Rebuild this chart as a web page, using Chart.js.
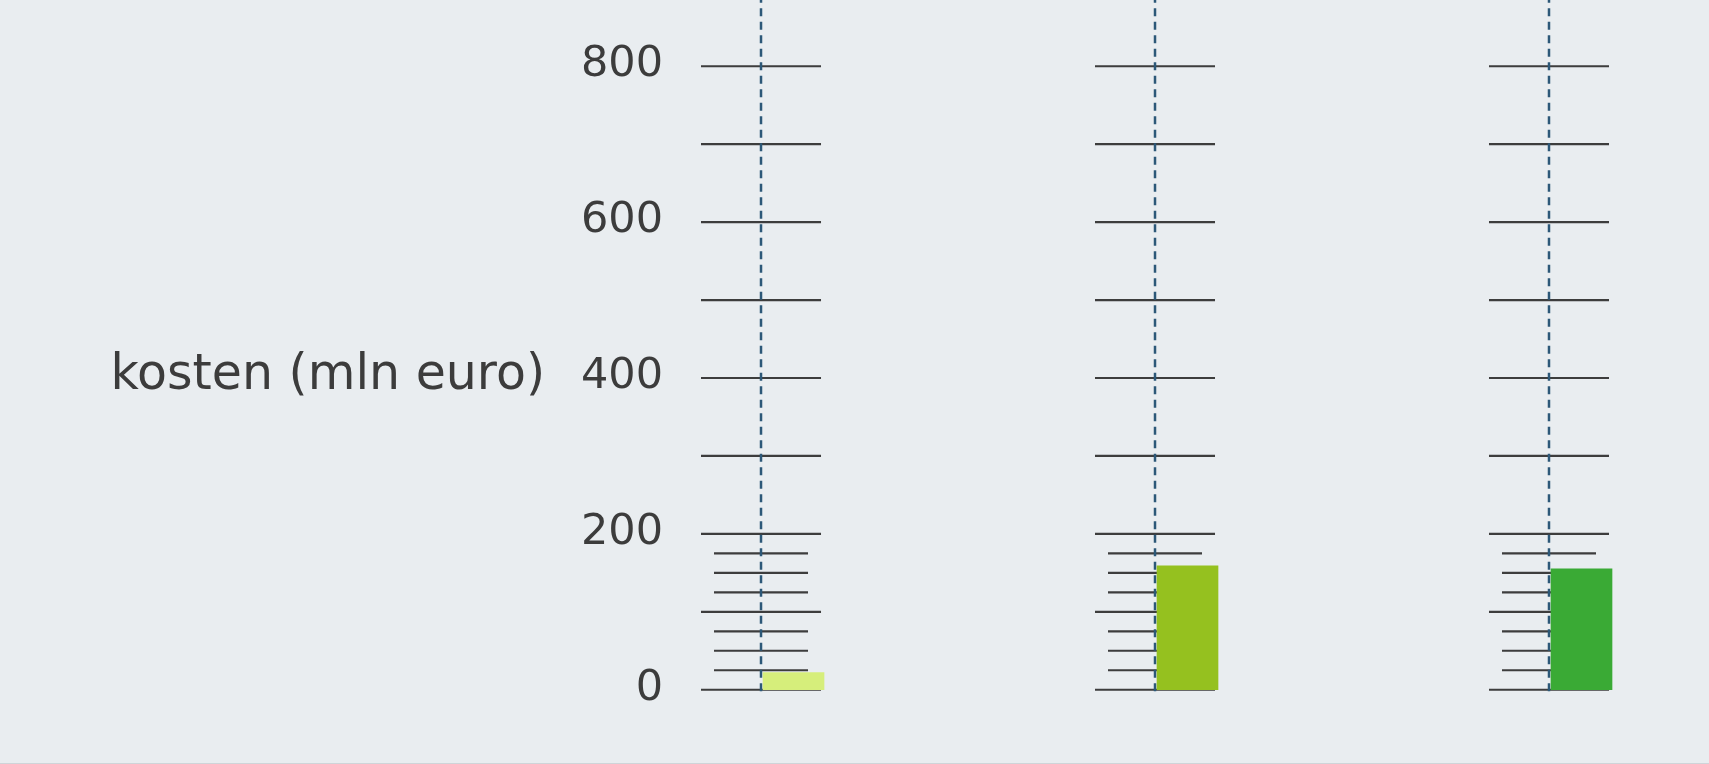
<!DOCTYPE html>
<html>
<head>
<meta charset="utf-8">
<script src="https://cdn.jsdelivr.net/npm/chart.js@4"></script>
<style>
  html, body { margin: 0; padding: 0; background: #e9edf0; }
  #wrap { width: 1709px; height: 763px; border-bottom: 1px solid #cfd4d8; }
  canvas { display: block; }
</style>
</head>
<body>
<div id="wrap"><canvas id="c" width="1709" height="763"></canvas></div>
<script>
// ---- data ----
const categories = ['1', '2', '3'];
const costs = [22, 159, 155];              // kosten (mln euro)
const barColors = ['#d6ee7b', '#95c11f', '#3aaa35'];
const majorTicks = [0, 100, 200, 300, 400, 500, 600, 700, 800];
const minorTicks = [25, 50, 75, 125, 150, 175];
const labelTicks = [0, 200, 400, 600, 800];
const axisTitle = 'kosten (mln euro)';

// ---- build datasets from the data ----
const MAJOR_HALF = 0.1523, MINOR_HALF = 0.1193, BAR_SHIFT = 0.0825, Y_TOP = 885;
const tickLines = [];
categories.forEach((c, i) => {
  majorTicks.forEach(v => {
    tickLines.push({x: i - MAJOR_HALF, y: v}, {x: i + MAJOR_HALF, y: v}, {x: i, y: null});
  });
  minorTicks.forEach(v => {
    tickLines.push({x: i - MINOR_HALF, y: v}, {x: i + MINOR_HALF, y: v}, {x: i, y: null});
  });
});
const stems = [];
categories.forEach((c, i) => {
  stems.push({x: i, y: -2}, {x: i, y: Y_TOP}, {x: i, y: null});
});
const bars = costs.map((v, i) => ({x: i + BAR_SHIFT, y: v}));

const titlePlugin = {
  id: 'sideTitle',
  afterDraw(chart) {
    const ctx = chart.ctx;
    ctx.save();
    ctx.font = '49px "DejaVu Sans"';
    ctx.fillStyle = '#3c3c3c';
    ctx.textAlign = 'right';
    ctx.textBaseline = 'alphabetic';
    ctx.fillText(axisTitle, chart.chartArea.left - 130, chart.scales.y.getPixelForValue(400) + 10.6);
    ctx.restore();
  }
};

new Chart(document.getElementById('c'), {
  type: 'bar',
  data: {
    datasets: [
      {
        type: 'bar',
        data: bars,
        backgroundColor: barColors,
        borderWidth: 0,
        barThickness: 61,
        order: 0
      },
      {
        type: 'line',
        data: stems,
        borderColor: '#2c5878',
        borderWidth: 2.5,
        borderDash: [8, 5.5],
        borderCapStyle: 'butt',
        pointRadius: 0,
        spanGaps: false,
        fill: false,
        clip: false,
        order: 1
      },
      {
        type: 'line',
        data: tickLines,
        borderColor: '#3d3d3d',
        borderWidth: 2.2,
        borderCapStyle: 'butt',
        pointRadius: 0,
        spanGaps: false,
        fill: false,
        clip: false,
        order: 2
      }
    ]
  },
  options: {
    responsive: false,
    devicePixelRatio: 1,
    animation: false,
    layout: { padding: 0 },
    plugins: { legend: { display: false }, tooltip: { enabled: false } },
    scales: {
      x: {
        type: 'linear',
        display: false,
        offset: false,
        min: -0.2183,
        max: 2.4061
      },
      y: {
        type: 'linear',
        position: 'left',
        min: -94,
        max: Y_TOP,
        grid: { display: false, drawTicks: false },
        border: { display: false },
        afterFit(s) { s.width = 675; s.paddingTop = 0; s.paddingBottom = 0; },
        afterBuildTicks(s) { s.ticks = labelTicks.map(v => ({value: v})); },
        ticks: {
          font: { family: 'DejaVu Sans', size: 43 },
          color: '#3c3c3c',
          padding: 12,
          labelOffset: -1
        }
      }
    }
  },
  plugins: [titlePlugin]
});
</script>
</body>
</html>
